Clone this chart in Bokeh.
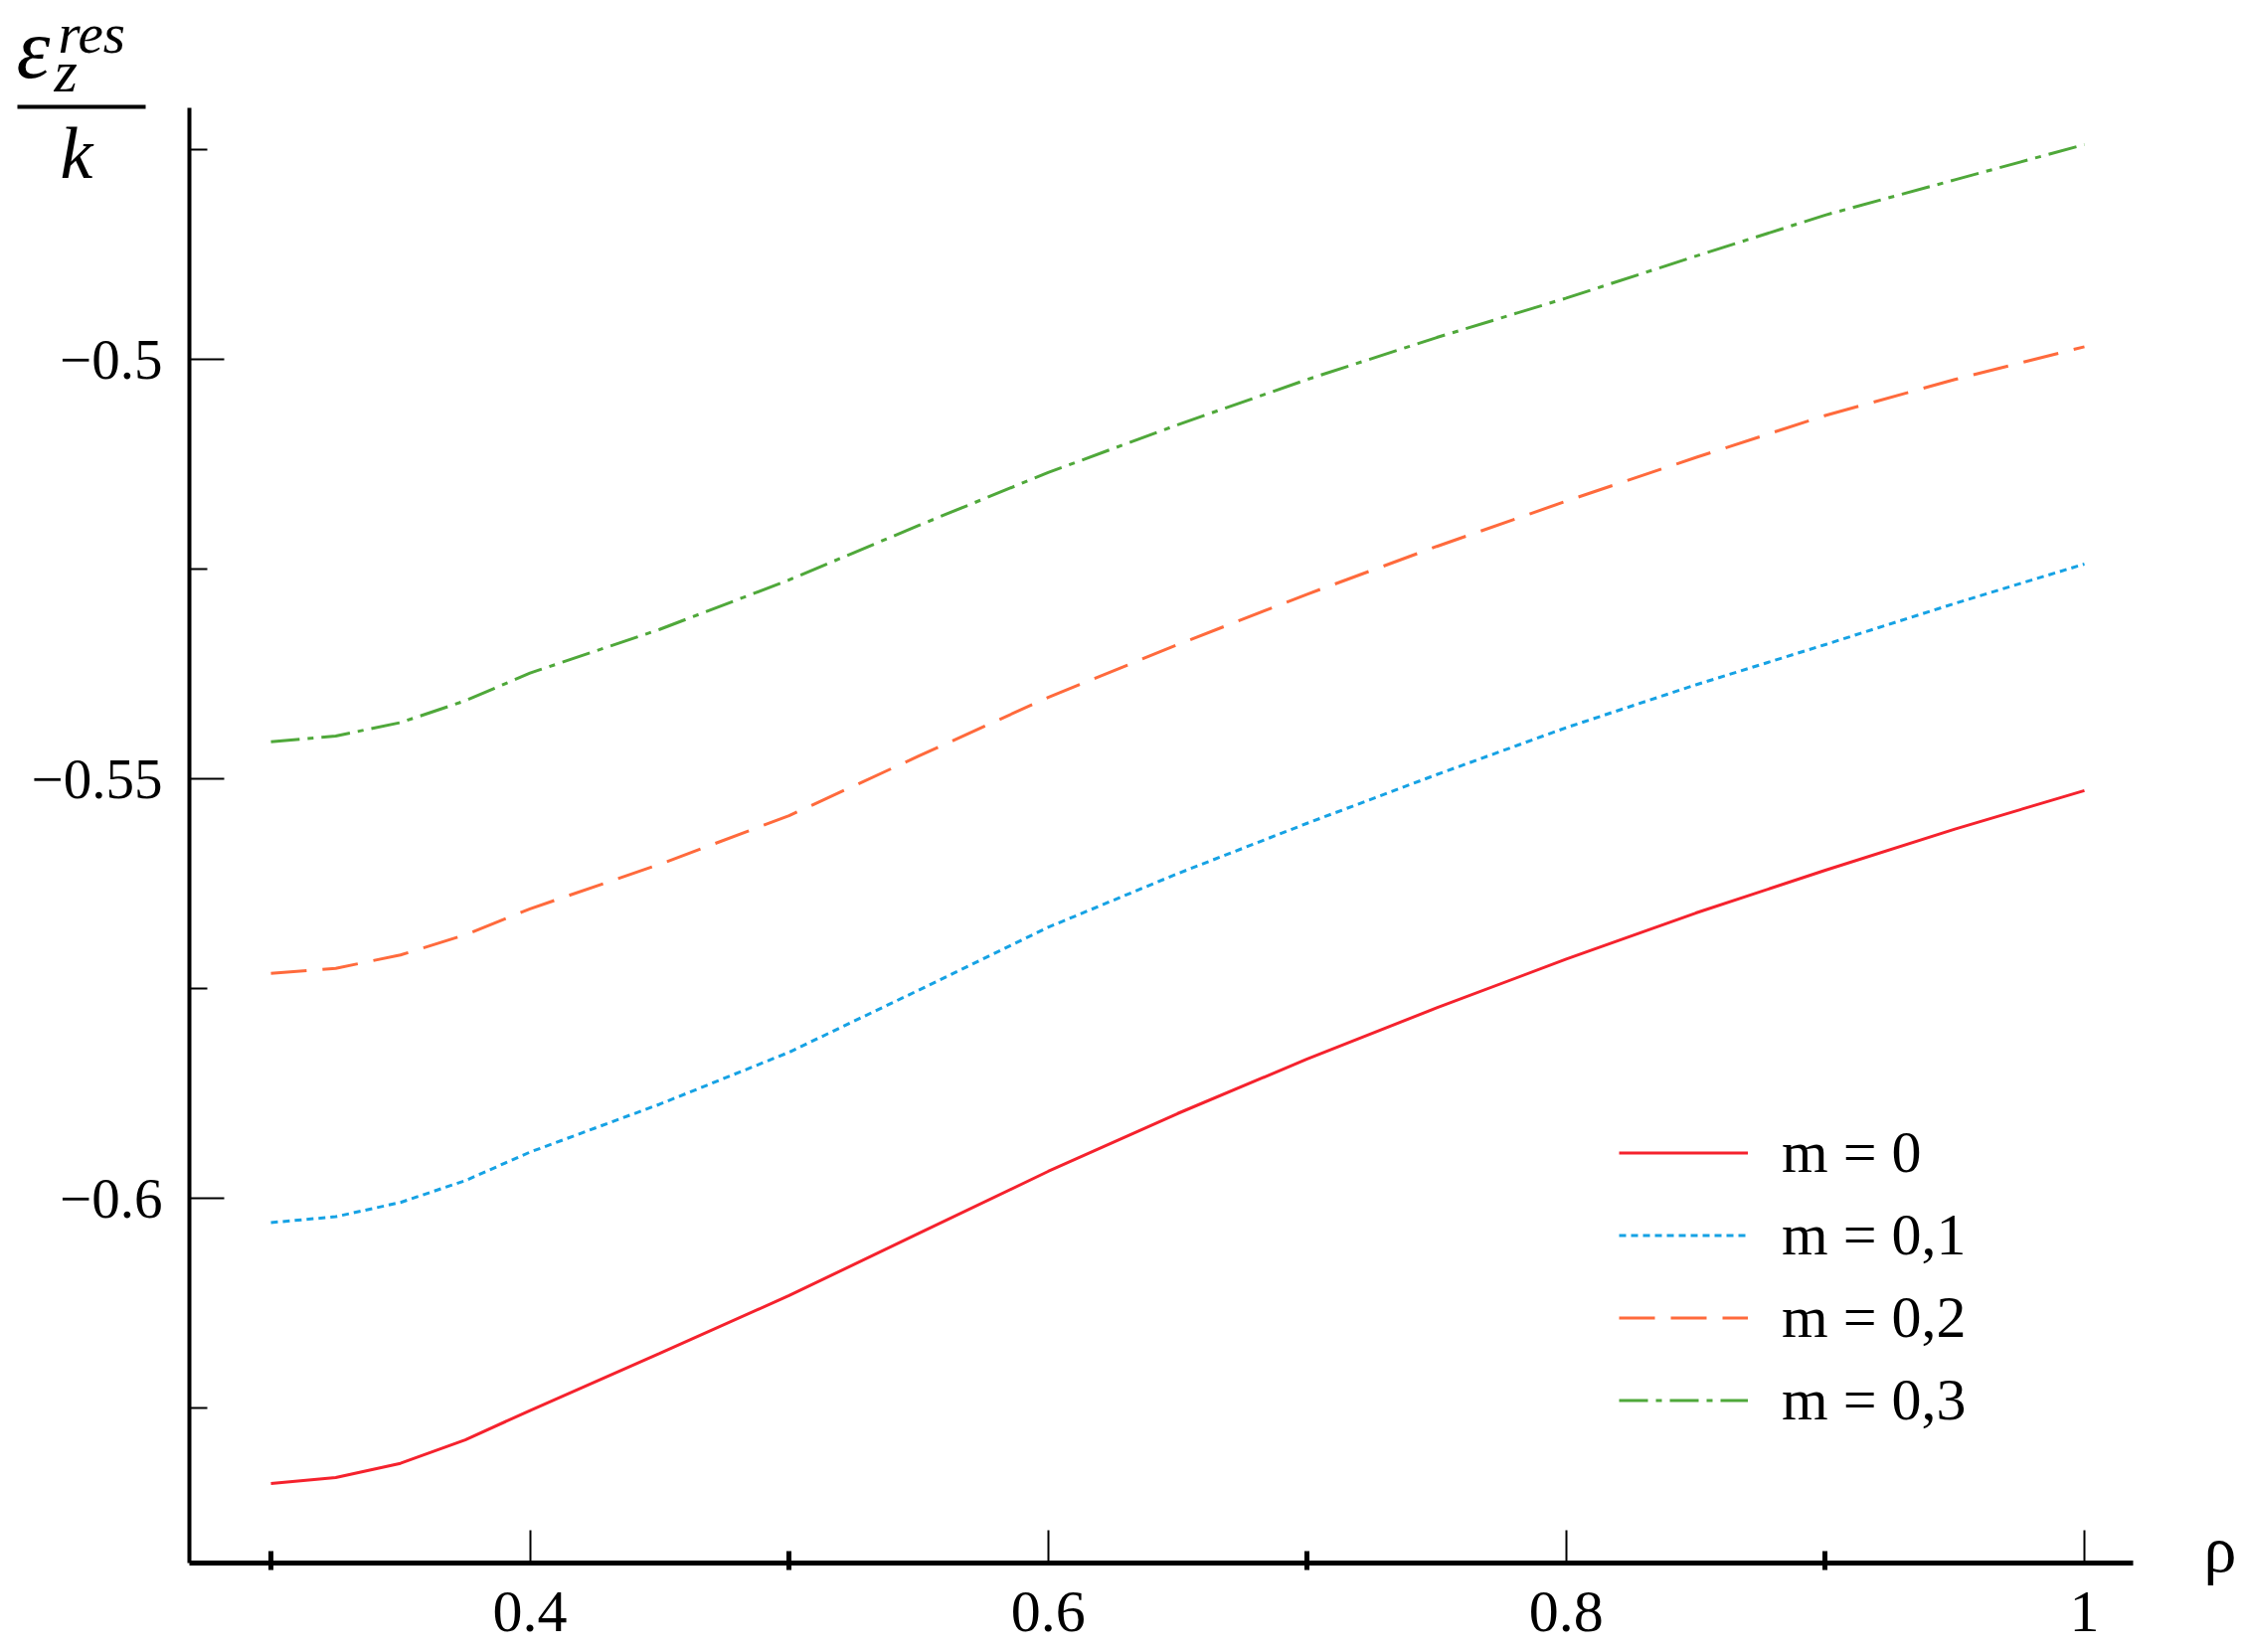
from bokeh.plotting import figure
from bokeh.models import (Range1d, FixedTicker, Legend, LegendItem, Label, Arrow,
                          CustomJSTickFormatter)
from bokeh.embed import file_html
from bokeh.resources import INLINE

# ---- data ----
rho = [0.300, 0.325, 0.350, 0.375, 0.40, 0.45, 0.50, 0.55, 0.60, 0.65, 0.70, 0.75,
       0.80, 0.85, 0.90, 0.95, 1.00]
eps_m0 = [-0.6340, -0.6333, -0.6316, -0.6288, -0.6253, -0.6185, -0.6116, -0.6042, -0.5968,
          -0.5899, -0.5834, -0.5773, -0.5715, -0.5660, -0.5609, -0.5560, -0.5514]
eps_m01 = [-0.6029, -0.6022, -0.6005, -0.5979, -0.5945, -0.5888, -0.5826, -0.5752, -0.5677,
           -0.5613, -0.5553, -0.5495, -0.5439, -0.5388, -0.5340, -0.5291, -0.5244]
eps_m02 = [-0.5732, -0.5726, -0.5710, -0.5686, -0.5655, -0.5602, -0.5544, -0.5473, -0.5403,
           -0.5340, -0.5280, -0.5223, -0.5169, -0.5117, -0.5067, -0.5024, -0.4985]
eps_m03 = [-0.5456, -0.5449, -0.5433, -0.5407, -0.5374, -0.5322, -0.5263, -0.5198, -0.5135,
           -0.5078, -0.5024, -0.4974, -0.4927, -0.4877, -0.4828, -0.4786, -0.4744]
legend_labels = ["m = 0", "m = 0,1", "m = 0,2", "m = 0,3"]

x_ticks = [0.4, 0.6, 0.8, 1.0]
x_tick_labels = ["0.4", "0.6", "0.8", "1"]
x_minor = [0.3, 0.5, 0.7, 0.9]
y_ticks = [-0.6, -0.55, -0.5]
y_tick_labels = ["\u22120.6", "\u22120.55", "\u22120.5"]
y_minor = [-0.625, -0.575, -0.525, -0.475]

# ---- layout (pixel geometry of the page) ----
W, H = 2257, 1662
PPX = (2096 - 272) / 0.7          # px per unit of rho
PPY = (1205 - 361) / 0.1          # px per unit of eps
X0 = 0.3 - 272 / PPX
X1 = X0 + W / PPX
Y1 = -0.5 + 361 / PPY
Y0 = Y1 - H / PPY

def px_x(px):
    return X0 + px / PPX

def px_y(py):
    return Y1 - py / PPY

AX_LEFT, AX_RIGHT, AX_TOP, AX_BOTTOM = 190, 2145, 108, 1572

p = figure(width=W, height=H, x_range=Range1d(X0, X1), y_range=Range1d(Y0, Y1),
           output_backend="svg", toolbar_location=None,
           min_border_left=0, min_border_right=0, min_border_top=0, min_border_bottom=0)
p.outline_line_color = None
p.xgrid.grid_line_color = None
p.ygrid.grid_line_color = None
p.background_fill_color = "white"
p.border_fill_color = "white"

FONT = "Liberation Serif"
fmt_js = ("const i = tvals.findIndex(t => Math.abs(t - tick) < 1e-9); "
          "return i >= 0 ? tlabels[i] : '';")

xa = p.xaxis[0]
xa.fixed_location = px_y(AX_BOTTOM)
xa.bounds = (px_x(AX_LEFT), px_x(AX_RIGHT))
xa.ticker = FixedTicker(ticks=x_ticks, minor_ticks=x_minor)
xa.formatter = CustomJSTickFormatter(args=dict(tvals=x_ticks, tlabels=x_tick_labels), code=fmt_js)
xa.axis_line_width = 5
xa.axis_line_color = "black"
xa.major_tick_in = 33
xa.major_tick_out = 0
xa.major_tick_line_width = 2
xa.minor_tick_in = 12
xa.minor_tick_out = 7
xa.minor_tick_line_width = 5
xa.major_label_text_font = FONT
xa.major_label_text_font_size = "60px"
xa.major_label_text_color = "black"
xa.major_label_standoff = 22

ya = p.yaxis[0]
ya.fixed_location = px_x(AX_LEFT)
ya.bounds = (px_y(AX_BOTTOM), px_y(AX_TOP))
ya.ticker = FixedTicker(ticks=y_ticks, minor_ticks=y_minor)
ya.formatter = CustomJSTickFormatter(args=dict(tvals=y_ticks, tlabels=y_tick_labels), code=fmt_js)
ya.axis_line_width = 4
ya.axis_line_color = "black"
ya.major_tick_in = 35
ya.major_tick_out = 0
ya.major_tick_line_width = 2
ya.minor_tick_in = 18
ya.minor_tick_out = 0
ya.minor_tick_line_width = 2
ya.major_label_text_font = FONT
ya.major_label_text_font_size = "57px"
ya.major_label_text_color = "black"
ya.major_label_standoff = 27

series = [eps_m0, eps_m01, eps_m02, eps_m03]
colors = ["#f5222d", "#16a2e4", "#ff6a3c", "#4fa83a"]
dashes = ["solid", "7 5", "36 16", "29 8 6 8"]
renderers = []
for ys, c, d in zip(series, colors, dashes):
    r = p.line(rho, ys, line_color=c, line_width=3, line_dash=d)
    renderers.append(r)

legend = Legend(items=[LegendItem(label=l, renderers=[r]) for l, r in zip(legend_labels, renderers)],
                location=(1628, 212), orientation="vertical",
                label_text_font=FONT, label_text_font_size="60px", label_text_color="black",
                glyph_width=130, glyph_height=83, label_height=83, spacing=0,
                padding=0, margin=0, label_standoff=34,
                border_line_color=None, background_fill_alpha=0)
p.add_layout(legend)

# y-axis quantity (fraction) and x-axis symbol; (px, baseline_px) in page pixels
def add_text(px, base_py, txt, size, italic=True):
    mid_py = base_py - 0.3375 * size
    p.add_layout(Label(x=px_x(px), y=px_y(mid_py), text=txt, text_font=FONT,
                       text_font_style="italic" if italic else "normal",
                       text_font_size=f"{size}px", text_color="black",
                       text_baseline="middle", text_align="left"))

add_text(16, 78, "\u03b5", 86)
add_text(58, 52, "res", 57)
add_text(54, 92, "z", 60)
p.add_layout(Arrow(x_start=px_x(17), y_start=px_y(107), x_end=px_x(146), y_end=px_y(107),
                   end=None, line_width=4, line_color="black"))
add_text(60, 178, "k", 74)
add_text(2216, 1580, "\u03c1", 66, italic=False)

open("out.html", "w").write(file_html(p, INLINE))
